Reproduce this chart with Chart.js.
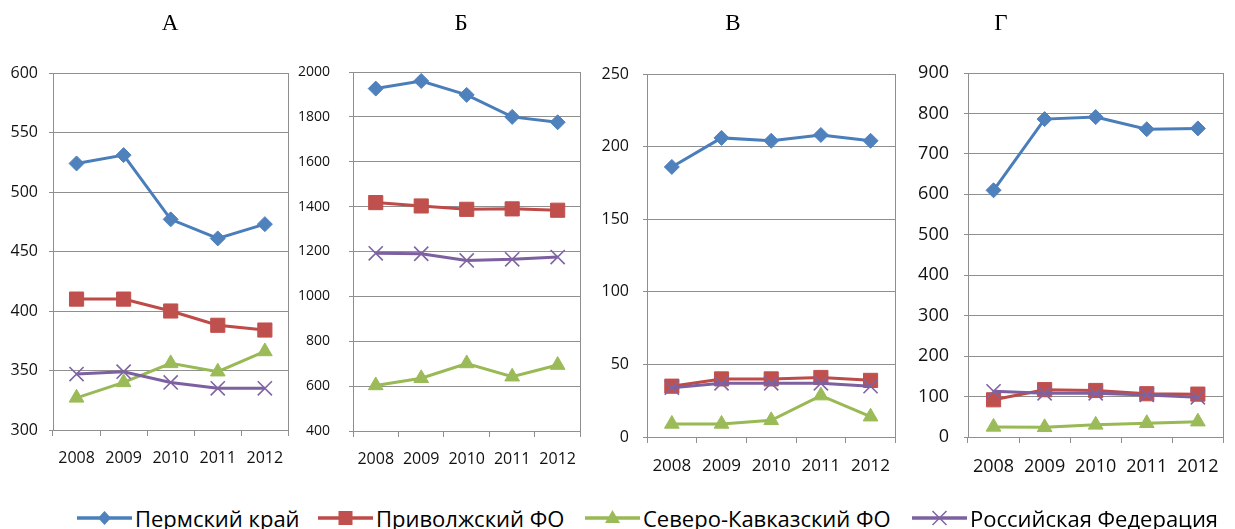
<!DOCTYPE html>
<html>
<head>
<meta charset="utf-8">
<script src="https://cdn.jsdelivr.net/npm/chart.js@4.4.1/dist/chart.umd.min.js"></script>
<style>
  html, body { margin: 0; padding: 0; background: #fff; }
  #wrap { position: relative; width: 1235px; height: 529px; overflow: hidden; }
  #wrap canvas { position: absolute; }
  .title { position: absolute; top: 10px; font: 23px "Liberation Serif", "Times New Roman", serif; color: #000; transform: translateX(-50%); }
  .li { position: absolute; top: 504px; height: 28px; display: flex; align-items: center; font: 22px "Open Sans", sans-serif; color: #000; white-space: nowrap; }
  .li svg { margin-right: 3px; flex: none; }
</style>
</head>
<body>
<div id="wrap">
  <canvas id="cA" width="300" height="445"></canvas>
  <canvas id="cB" width="296" height="445"></canvas>
  <canvas id="cV" width="315" height="450"></canvas>
  <canvas id="cG" width="330" height="450"></canvas>
  <div id="titles"></div>
  <div id="legend"></div>
</div>
<script>
// Years on the category axis
const years = ['2008', '2009', '2010', '2011', '2012'];
const seriesNames = ['Пермский край', 'Приволжский ФО', 'Северо-Кавказский ФО', 'Российская Федерация'];
const panelTitles = ['А', 'Б', 'В', 'Г'];

// Panel А
const permA = [524, 531, 477, 461, 473];
const privA = [410, 410, 400, 388, 384];
const skfoA = [327, 340, 356, 349, 366];
const rfA   = [347, 349, 340, 335, 335];

// Panel Б
const permB = [1926, 1960, 1898, 1800, 1776];
const privB = [1418, 1403, 1388, 1390, 1384];
const skfoB = [603, 635, 701, 642, 694];
const rfB   = [1192, 1190, 1160, 1165, 1175];

// Panel В
const permV = [186, 206, 204, 208, 204];
const privV = [35, 40, 40, 41, 39];
const skfoV = [9, 9, 11.5, 28.5, 14];
const rfV   = [34, 37, 37, 37, 35];

// Panel Г
const permG = [610, 786, 791, 761, 763];
const privG = [92, 117, 115, 107, 106];
const skfoG = [25, 24, 30, 34, 38];
const rfG   = [113, 108, 108, 104, 98];

// Value-axis ranges per panel
const yMin  = [300, 400, 0, 0];
const yMax  = [600, 2000, 250, 900];
const yStep = [50, 200, 50, 100];

const lineColors   = ['#4A7EBB', '#BE4B48', '#98B954', '#7D60A0'];
const markerColors = ['#4F81BD', '#C0504D', '#9BBB59', '#8064A2'];
const markerStyles = ['rectRot', 'rect', 'triangle', 'crossRot'];
const markerRadius = [7.5, 10, 8.5, 10];
const GRID = '#8f8f8f';
const FONT = '"Open Sans", sans-serif';

function datasets(series) {
  return series.map((vals, i) => ({
    label: seriesNames[i],
    data: vals,
    borderColor: lineColors[i],
    backgroundColor: markerColors[i],
    pointBackgroundColor: markerColors[i],
    pointBorderColor: markerColors[i],
    pointStyle: markerStyles[i],
    pointRadius: markerRadius[i],
    pointBorderWidth: i === 3 ? 1.6 : 1,
    borderWidth: 3,
    tension: 0,
    order: 3 - i
  }));
}

// canvas: {x, y, w, h}; area: plot rectangle in page coordinates
function makePanel(id, canvas, area, series, k, xFont, yFont, yPad) {
  const el = document.getElementById(id);
  el.style.left = canvas.x + 'px';
  el.style.top = canvas.y + 'px';
  return new Chart(el, {
    type: 'line',
    data: { labels: years, datasets: datasets(series) },
    options: {
      responsive: false,
      animation: false,
      devicePixelRatio: 1,
      layout: { padding: { left: 0, top: area.t - canvas.y, right: canvas.x + canvas.w - area.r, bottom: 0 } },
      plugins: { legend: { display: false }, tooltip: { enabled: false } },
      scales: {
        x: {
          type: 'category',
          offset: true,
          grid: { offset: true, drawOnChartArea: false, tickLength: 6, color: GRID },
          border: { color: GRID },
          ticks: { font: { family: FONT, size: xFont }, color: '#111', padding: 13, maxRotation: 0, autoSkip: false },
          afterFit(s) { s.height = canvas.y + canvas.h - area.b; }
        },
        y: {
          min: yMin[k], max: yMax[k],
          ticks: { stepSize: yStep[k], font: { family: FONT, size: yFont }, color: '#111', padding: yPad,
                   callback: v => String(v) },
          grid: { color: GRID, tickLength: 4 },
          border: { color: GRID },
          afterFit(s) { s.width = area.l - canvas.x; }
        },
        yRight: {
          position: 'right', min: 0, max: 1,
          ticks: { display: false },
          grid: { drawOnChartArea: false, drawTicks: false },
          border: { color: GRID },
          afterFit(s) { s.width = 0; }
        }
      }
    }
  });
}

makePanel('cA', { x: 0,   y: 30, w: 300, h: 445 }, { l: 53,  t: 73, r: 293,  b: 430 }, [permA, privA, skfoA, rfA], 0, 16, 16, 11);
makePanel('cB', { x: 296, y: 30, w: 296, h: 445 }, { l: 353, t: 72, r: 587,  b: 431 }, [permB, privB, skfoB, rfB], 1, 16, 14, 19);
makePanel('cV', { x: 592, y: 30, w: 315, h: 450 }, { l: 647, t: 74, r: 903,  b: 437 }, [permV, privV, skfoV, rfV], 2, 17, 16, 14);
makePanel('cG', { x: 905, y: 30, w: 330, h: 450 }, { l: 968, t: 73, r: 1235, b: 437 }, [permG, privG, skfoG, rfG], 3, 18, 18, 15);

// Panel letters
const titleX = [170, 461, 733, 1001];
const titles = document.getElementById('titles');
panelTitles.forEach((t, i) => {
  const d = document.createElement('div');
  d.className = 'title';
  d.style.left = titleX[i] + 'px';
  d.textContent = t;
  titles.appendChild(d);
});

// Shared legend: line sample with marker, then series name
function markerSvg(i) {
  const c = markerColors[i], cx = 27.5, cy = 10;
  let m = '';
  if (i === 0) m = `<polygon points="${cx},${cy-7} ${cx+6.5},${cy} ${cx},${cy+7} ${cx-6.5},${cy}" fill="${c}"/>`;
  if (i === 1) m = `<rect x="${cx-7}" y="${cy-7}" width="14" height="14" fill="${c}"/>`;
  if (i === 2) m = `<polygon points="${cx},${cy-8} ${cx+7.5},${cy+5} ${cx-7.5},${cy+5}" fill="${c}"/>`;
  if (i === 3) m = `<path d="M${cx-7},${cy-7}L${cx+7},${cy+7}M${cx+7},${cy-7}L${cx-7},${cy+7}" stroke="${c}" stroke-width="1.5"/>`;
  return `<svg width="55" height="20" viewBox="0 0 55 20"><line x1="0" y1="10" x2="55" y2="10" stroke="${lineColors[i]}" stroke-width="3.5"/>${m}</svg>`;
}
const legendX = [77, 318, 585, 912];
const legend = document.getElementById('legend');
seriesNames.forEach((name, i) => {
  const d = document.createElement('div');
  d.className = 'li';
  d.style.left = legendX[i] + 'px';
  d.innerHTML = markerSvg(i) + '<span>' + name + '</span>';
  legend.appendChild(d);
});
</script>
</body>
</html>
